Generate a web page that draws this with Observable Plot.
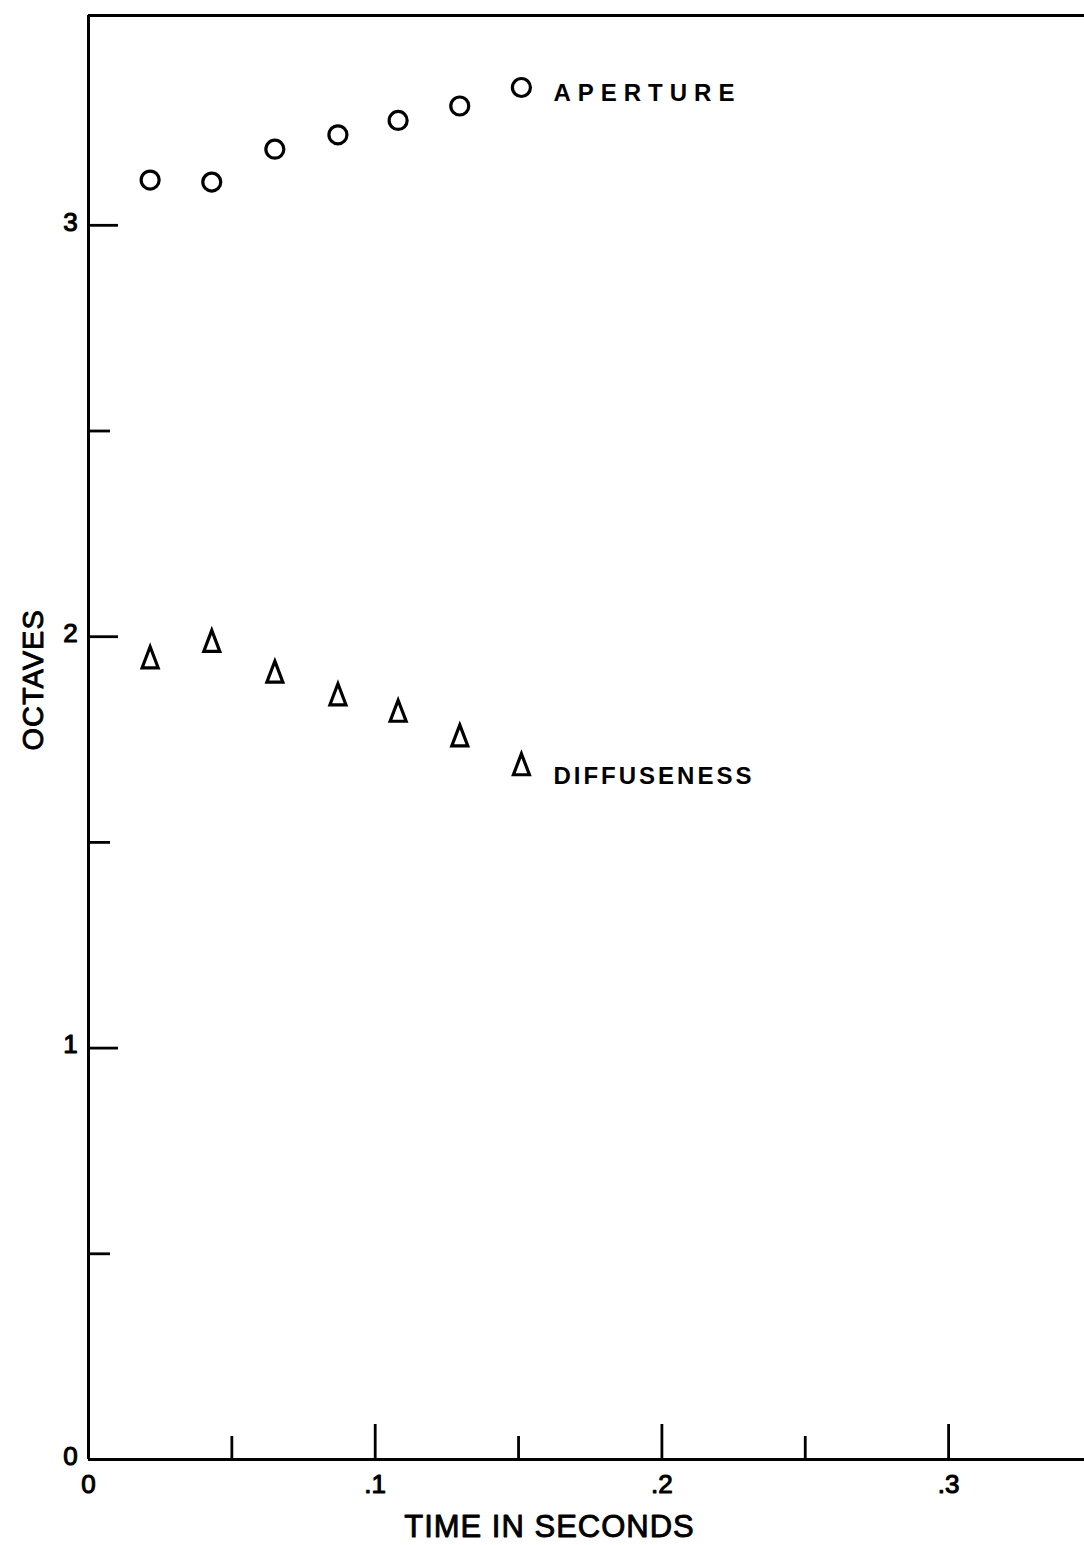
<!DOCTYPE html>
<html>
<head>
<meta charset="utf-8">
<script src="https://cdn.jsdelivr.net/npm/d3@7"></script>
<script src="https://cdn.jsdelivr.net/npm/@observablehq/plot@0.6"></script>
<style>
  html, body { margin: 0; padding: 0; background: #fff; }
  #chart svg { display: block; }
</style>
</head>
<body>
<div id="chart"></div>
<script>
// ---- data ----
const time = [0.0215, 0.043, 0.065, 0.087, 0.108, 0.1295, 0.151];
const aperture = [3.11, 3.105, 3.185, 3.22, 3.255, 3.29, 3.335];
const diffuseness = [1.95, 1.99, 1.915, 1.86, 1.82, 1.76, 1.69];
const seriesNames = ["APERTURE", "DIFFUSENESS"];

const xMajorTicks = [0.1, 0.2, 0.3];
const xMinorTicks = [0.05, 0.15, 0.25];
const xLabelValues = [0, 0.1, 0.2, 0.3];
const xLabelTexts = ["0", ".1", ".2", ".3"];

const yMajorTicks = [1, 2, 3];
const yMinorTicks = [0.5, 1.5, 2.5];
const yLabelValues = [0, 1, 2, 3];
const yLabelTexts = ["0", "1", "2", "3"];

const xDomain = [0, 0.3474];
const yDomain = [0, 3.51];
const xTitle = "TIME IN SECONDS";
const yTitle = "OCTAVES";

const apData = time.map((t, i) => ({t, v: aperture[i]}));
const diData = time.map((t, i) => ({t, v: diffuseness[i]}));

// tall narrow triangle like the hand-drawn "Δ"
const tallTriangle = {
  draw(context, size) {
    const r = Math.sqrt(size / Math.PI);
    context.moveTo(0, -1.05 * r);
    context.lineTo(0.8 * r, 1.05 * r);
    context.lineTo(-0.8 * r, 1.05 * r);
    context.closePath();
  }
};

const font = "Liberation Sans, Arial, sans-serif";

const chart = Plot.plot({
  width: 1084,
  height: 1545,
  marginLeft: 88,
  marginRight: 0,
  marginTop: 15,
  marginBottom: 86,
  x: {domain: xDomain, axis: null},
  y: {domain: yDomain, axis: null},
  style: {fontFamily: font, fontSize: "24px", color: "#000", background: "#fff"},
  marks: [
    // frame lines
    Plot.ruleX([0], {stroke: "#000", strokeWidth: 3}),
    Plot.ruleY([0], {stroke: "#000", strokeWidth: 3}),
    Plot.ruleY([yDomain[1]], {stroke: "#000", strokeWidth: 2.8}),

    // inward ticks
    Plot.axisX(xMajorTicks, {tickSize: -35, strokeWidth: 2.8, tickFormat: () => "", label: null}),
    Plot.axisX(xMinorTicks, {tickSize: -23, strokeWidth: 2.8, tickFormat: () => "", label: null}),
    Plot.axisY(yMajorTicks, {tickSize: -30, strokeWidth: 2.8, tickFormat: () => "", label: null}),
    Plot.axisY(yMinorTicks, {tickSize: -22, strokeWidth: 2.8, tickFormat: () => "", label: null}),

    // tick labels
    Plot.text(xLabelValues, {
      x: d => d, frameAnchor: "bottom", dy: 25, text: (d, i) => xLabelTexts[i],
      fontSize: 26, lineAnchor: "middle", textAnchor: "middle",
      fill: "#000", stroke: "#000", strokeWidth: 1.1
    }),
    Plot.text(yLabelValues, {
      y: d => d, frameAnchor: "left", dx: -18, dy: -3, text: (d, i) => yLabelTexts[i],
      fontSize: 26, lineAnchor: "middle", textAnchor: "middle",
      fill: "#000", stroke: "#000", strokeWidth: 1.1
    }),

    // axis titles
    Plot.text([xTitle], {
      frameAnchor: "bottom", text: d => d, dx: -37, dy: 68,
      fontSize: 31, lineAnchor: "middle", fill: "#000", stroke: "#000", strokeWidth: 0.9
    }),
    Plot.text([yTitle], {
      frameAnchor: "left", text: d => d, dx: -55, dy: 13, rotate: -90,
      fontSize: 29, lineAnchor: "middle", fill: "#000", stroke: "#000", strokeWidth: 0.9
    }),

    // data
    Plot.dot(apData, {x: "t", y: "v", r: 9, stroke: "#000", strokeWidth: 3.2, fill: "#fff"}),
    Plot.dot(diData, {x: "t", y: "v", r: 10, symbol: tallTriangle, stroke: "#000", strokeWidth: 3.2, fill: "#fff"}),

    // series labels
    Plot.text(apData.slice(-1), {
      x: "t", y: "v", text: () => seriesNames[0], dx: 32, dy: 6,
      textAnchor: "start", fontSize: 24, fontWeight: "bold", fill: "#000"
    }),
    Plot.text(diData.slice(-1), {
      x: "t", y: "v", text: () => seriesNames[1], dx: 32, dy: 12,
      textAnchor: "start", fontSize: 24, fontWeight: "bold", fill: "#000"
    })
  ]
});

document.getElementById("chart").appendChild(chart);

// letter spacing for the hand-lettered labels
d3.select(chart).selectAll("text").each(function () {
  const t = this.textContent;
  if (t === seriesNames[0]) this.setAttribute("letter-spacing", "7");
  if (t === seriesNames[1]) this.setAttribute("letter-spacing", "3");
  if (t === xTitle) this.setAttribute("letter-spacing", "1");
  if (t === yTitle) this.setAttribute("letter-spacing", "1");
});
</script>
</body>
</html>
